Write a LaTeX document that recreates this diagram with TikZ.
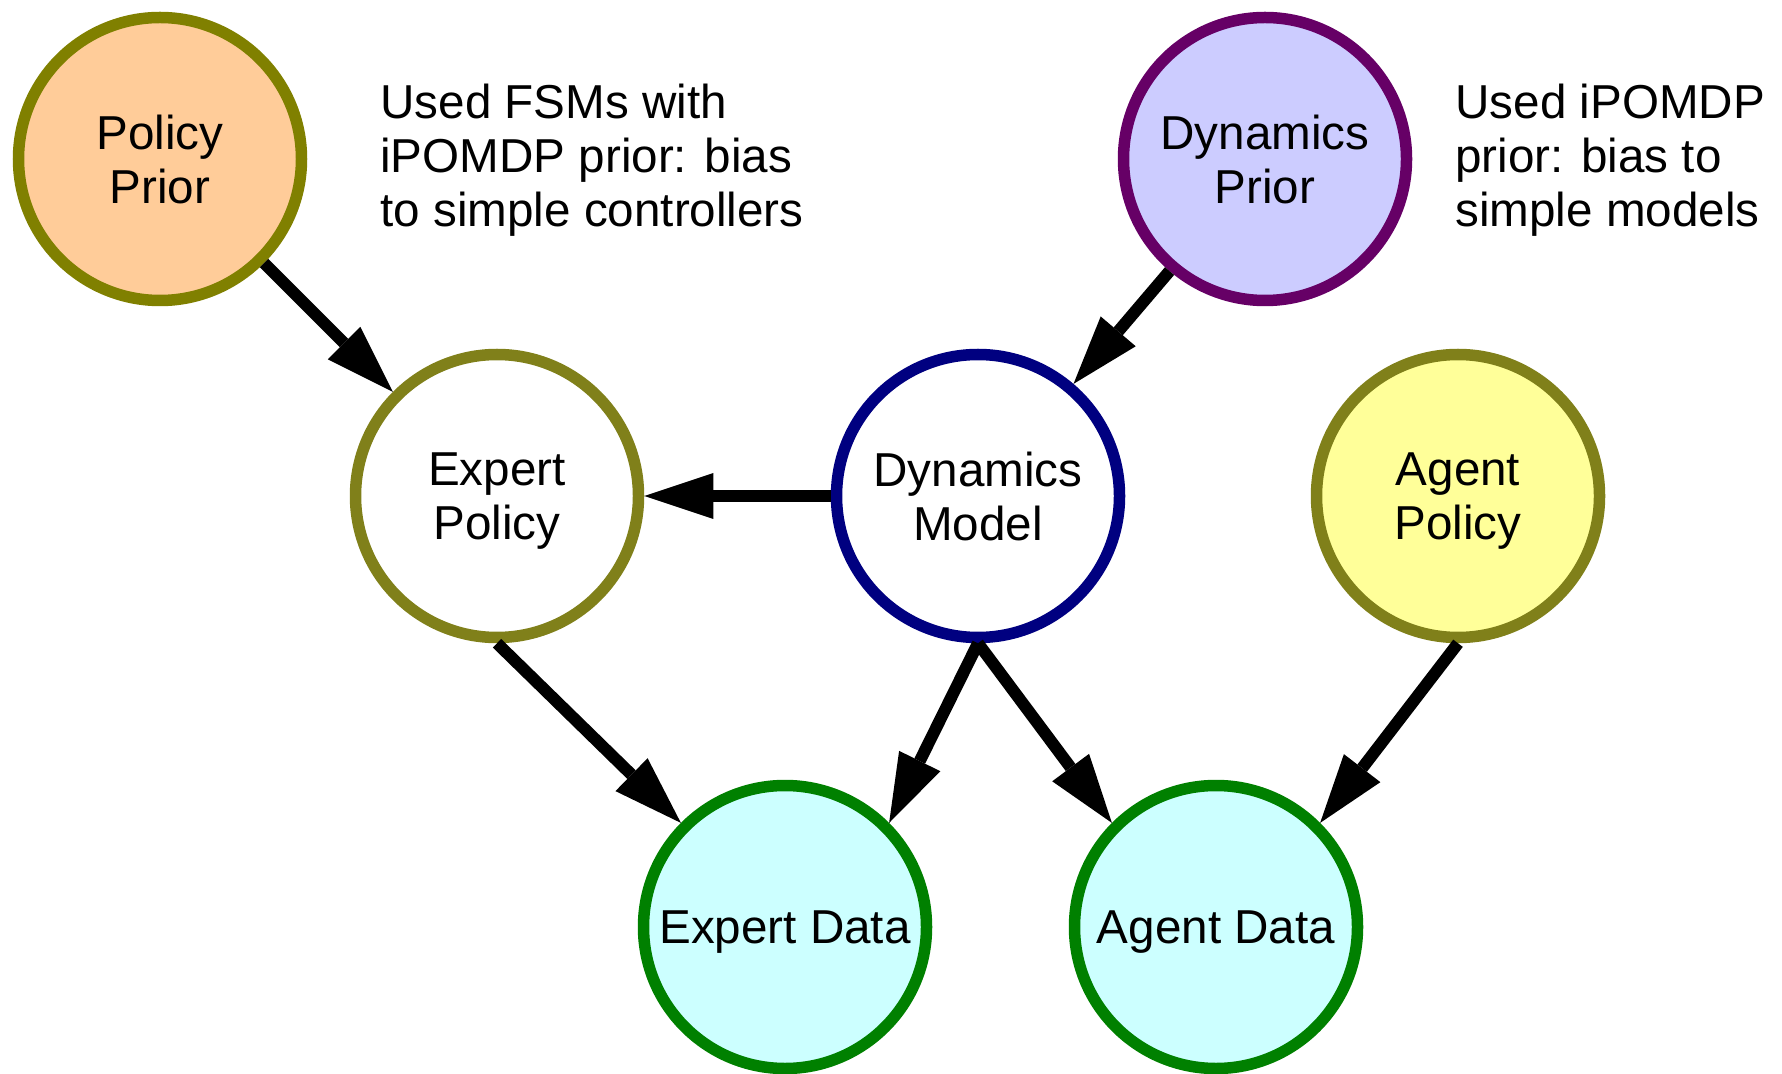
\documentclass[tikz,border=0pt]{standalone}
\usepackage{fontspec}
\setmainfont{Liberation Sans}
\usetikzlibrary{arrows.meta}
\definecolor{olivec}{HTML}{808000}
\definecolor{olivel}{HTML}{80801A}
\definecolor{peach}{HTML}{FFCC99}
\definecolor{lavend}{HTML}{CCCCFF}
\definecolor{plumc}{HTML}{660066}
\definecolor{navyc}{HTML}{000080}
\definecolor{lyellow}{HTML}{FFFF99}
\definecolor{lcyan}{HTML}{CCFFFF}
\definecolor{greenc}{HTML}{008000}
\begin{document}
\begin{tikzpicture}[x=0.5pt,y=-0.5pt,
  vnode/.style={circle,draw,line width=5.75pt,minimum size=141.5pt,inner sep=0pt,
    align=center,text depth=0pt,font=\fontsize{23.8pt}{27pt}\selectfont},
  edge/.style={line width=6pt,-{Triangle[length=34.5pt,width=23pt,line width=0pt]}},
  note/.style={anchor=base west,align=left,inner sep=0pt,
    font=\fontsize{23.8pt}{27.2pt}\selectfont}]
\useasboundingbox (0,0) rectangle (1782,1074);
\node[vnode,draw=olivec,fill=peach]   (pp) at (160,159)  {Policy\\Prior};
\node[vnode,draw=plumc,fill=lavend]   (dp) at (1265,159) {Dynamics\\Prior};
\node[vnode,draw=olivel,fill=white]   (ep) at (497,496)  {Expert\\Policy};
\node[vnode,draw=navyc,fill=white]    (dm) at (978,496)  {Dynamics\\Model};
\node[vnode,draw=olivel,fill=lyellow] (ap) at (1458,496) {Agent\\Policy};
\node[vnode,draw=greenc,fill=lcyan]   (ed) at (785,927)  {Expert Data};
\node[vnode,draw=greenc,fill=lcyan]   (ad) at (1216,927) {Agent Data};
\node[note] (n1) at (380,227) {Used FSMs with\\iPOMDP prior: bias\\to simple controllers};
\node[note] (n2) at (1455,227) {Used iPOMDP\\prior: bias to\\simple models};
\draw[edge] (pp) -- (ep);
\draw[edge] (dp) -- (dm);
\draw[edge] (dm) -- (ep);
\draw[edge] (ep.south) -- (ed.135);
\draw[edge] (dm.south) -- (ed.45);
\draw[edge] (dm.south) -- (ad.135);
\draw[edge] (ap.south) -- (ad.45);
\end{tikzpicture}
\end{document}
